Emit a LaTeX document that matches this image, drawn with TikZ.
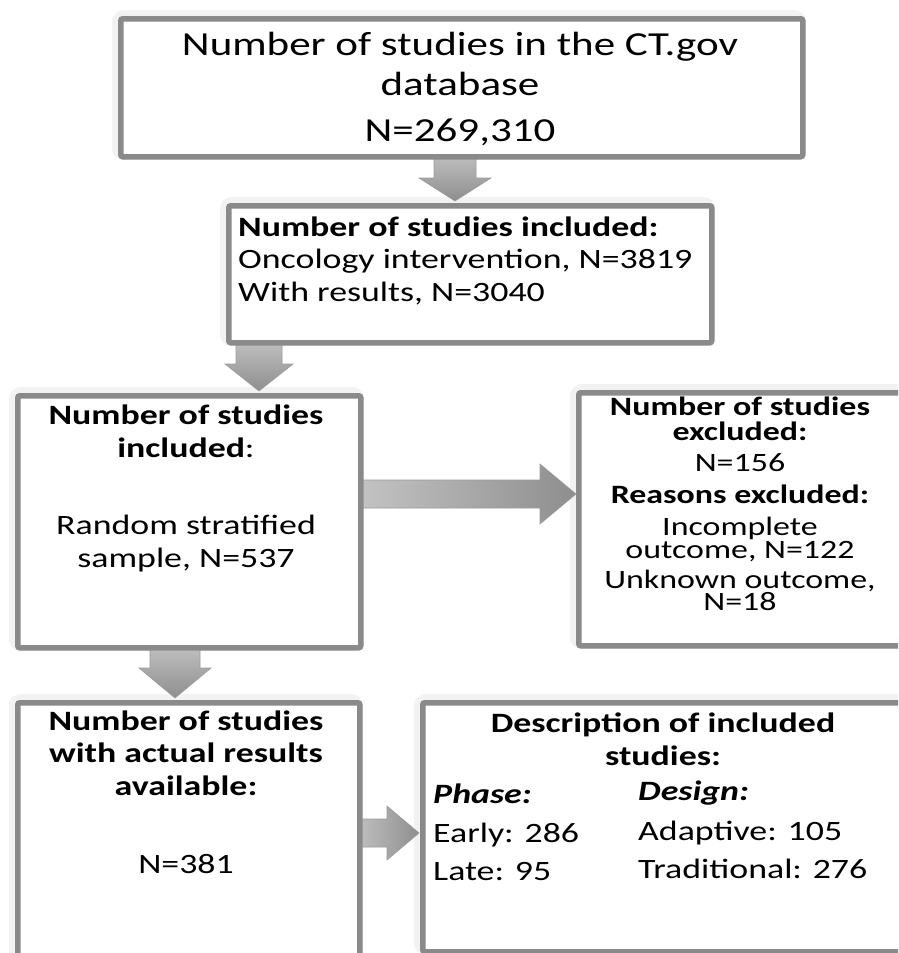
\documentclass[tikz,border=0pt]{standalone}
\usepackage{fontspec}
\setmainfont[FakeStretch=1.28]{Carlito}
\usetikzlibrary{calc}
\definecolor{bord}{HTML}{8A8A8A}
\definecolor{arrL}{HTML}{C4C4C4}
\definecolor{arrD}{HTML}{8E8E8E}
\definecolor{arrE}{HTML}{9C9C9C}
\tikzset{
  boxst/.style={draw=bord, line width=5.5pt, rounded corners=2pt, fill=white, inner sep=0pt, anchor=north west},
  halo/.style={draw=black!5, line width=12pt, rounded corners=6pt},
  big/.style={inner sep=0pt, anchor=base, font=\fontsize{33.6}{40}\selectfont},
  mid/.style={inner sep=0pt, anchor=base, font=\fontsize{28}{32}\selectfont},
  midl/.style={mid, anchor=base west},
  exc/.style={inner sep=0pt, anchor=base, font=\fontsize{26.5}{30}\selectfont},
  arrst/.style={draw=arrE, line width=0.6pt}
}
\newcommand{\blkdown}[6]{%
  \shadedraw[arrst, top color=arrL, bottom color=arrD]
    ({#1-#6},#2) -- ({#1+#6},#2) -- ({#1+#6},#3) -- ({#1+#5},#3) -- (#1,#4)
    -- ({#1-#5},#3) -- ({#1-#6},#3) -- cycle;}
\newcommand{\blkright}[6]{%
  \shadedraw[arrst, left color=arrL, right color=arrD]
    (#1,{#4-#6}) -- (#2,{#4-#6}) -- (#2,{#4-#5}) -- (#3,#4) -- (#2,{#4+#5})
    -- (#2,{#4+#6}) -- (#1,{#4+#6}) -- cycle;}
\begin{document}
\begin{tikzpicture}[x=1pt,y=-1pt]
\useasboundingbox (0,0) rectangle (898,953);
\clip (0,0) rectangle (898,953);
\fill[white] (0,0) rectangle (898,953);

% soft halos
\foreach \a/\b/\c/\d in {118/16/800/154, 226/203/709/340, 15/393/358/645,
  576/390/905/643, 15/700/357/990, 420/700/906/949}
  \draw[halo] (\a,\b) rectangle (\c,\d);

% block arrows
\blkdown{455}{150}{178}{201}{36}{21}
\blkdown{259}{337}{364}{391}{34}{23}
\blkright{355}{540}{576}{494}{30}{14}
\blkdown{175}{642}{668}{698}{36}{25}
\blkright{352}{387}{419}{833}{27}{14}

% boxes
\node[boxst, minimum width=682pt, minimum height=138pt] (b1) at (118,16) {};
\node[boxst, minimum width=483pt, minimum height=137pt] (b2) at (226,203) {};
\node[boxst, minimum width=343pt, minimum height=252pt] (b3) at (15,393) {};
\node[boxst, minimum width=329pt, minimum height=253pt] (b4) at (576,390) {};
\node[boxst, minimum width=342pt, minimum height=290pt] (b5) at (15,700) {};
\node[boxst, minimum width=486pt, minimum height=249pt] (b6) at (420,700) {};

% box 1
\node[big] (t1a) at (460,55) {Number of studies in the CT.gov};
\node[big] (t1b) at (460,95) {database};
\node[big] (t1c) at (460,141) {N=269,310};

% box 2
\node[midl] (t2a) at (238,236) {\textbf{Number of studies included:}};
\node[midl] (t2b) at (238,268) {Oncology intervention, N=3819};
\node[midl] (t2c) at (238,301) {With results, N=3040};

% box 3
\node[mid] (t3a) at (186,424) {\textbf{Number of studies}};
\node[mid] (t3b) at (186,457) {\textbf{included}:};
\node[mid] (t3c) at (186,534) {Random stratified};
\node[mid] (t3d) at (186,567) {sample, N=537};

% box 4
\node[exc] (t4a) at (740,415) {\textbf{Number of studies}};
\node[exc] (t4b) at (740,440) {\textbf{excluded:}};
\node[exc] (t4c) at (740,471) {N=156};
\node[exc] (t4d) at (740,503) {\textbf{Reasons excluded:}};
\node[exc] (t4e) at (740,535) {Incomplete};
\node[exc] (t4f) at (740,558) {outcome, N=122};
\node[exc] (t4g) at (740,588) {Unknown outcome,};
\node[exc] (t4h) at (740,610) {N=18};

% box 5
\node[mid] (t5a) at (186,730) {\textbf{Number of studies}};
\node[mid] (t5b) at (186,762) {\textbf{with actual results}};
\node[mid] (t5c) at (186,795) {\textbf{available:}};
\node[mid] (t5d) at (186,873) {N=381};

% box 6
\node[mid] (t6a) at (663,732) {\textbf{Description of included}};
\node[mid] (t6b) at (663,765) {\textbf{studies:}};
\node[midl] (t6c) at (433,803) {\textbf{\textit{Phase:}}};
\node[midl] (t6d) at (638,800) {\textbf{\textit{Design:}}};
\node[midl] (t6e) at (433,842) {Early: 286};
\node[midl] (t6f) at (433,880) {Late: 95};
\node[midl] (t6g) at (638,840) {Adaptive: 105};
\node[midl] (t6h) at (638,878) {Traditional: 276};
\end{tikzpicture}
\end{document}
